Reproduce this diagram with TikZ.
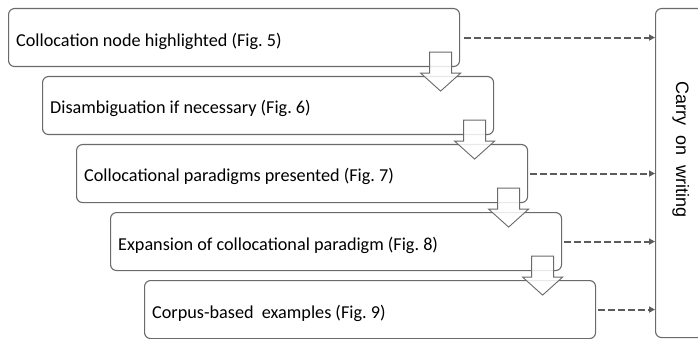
\documentclass[tikz,border=0pt]{standalone}
\usepackage{fontspec}
\setmainfont{Carlito}
\newfontfamily\sidefont{Liberation Sans}
\usetikzlibrary{arrows.meta,calc}
\definecolor{edgegray}{HTML}{6A6A6A}
\definecolor{linkgray}{HTML}{5C5C5C}
\frenchspacing
% hollow block arrow hanging from the lower right of a step box
\newcommand\blockdown[1]{%
  \draw[downarrow] ($(#1.south east)+(-30.5,-15)$) -- ++(22,0) -- ++(0,21)
    -- ++(9,0) -- ++(-20,18) -- ++(-20,-18) -- ++(9,0) -- cycle;}
\begin{document}
\begin{tikzpicture}[x=1pt,y=-1pt,
  stepbox/.style={draw=edgegray, line width=1.1pt, fill=white, rounded corners=6pt,
    anchor=north west, inner sep=0pt, minimum width=451pt, minimum height=58pt},
  steptext/.style={anchor=base west, inner sep=0pt, font=\fontsize{18.2}{22}\selectfont},
  link/.style={draw=linkgray, line width=2pt, dash pattern=on 7pt off 3pt,
    -{Triangle[length=6pt,width=6pt]}},
  downarrow/.style={draw=edgegray, line width=0.9pt, fill=white, fill opacity=0.85,
    line join=miter}
]
\useasboundingbox (0,0) rectangle (698,339);
\clip (0,0) rectangle (698,339);

% the five steps
\node[stepbox] (b1) at (8,8) {};
\node[steptext] (t1) at (16,47) {Collocation node highlighted (Fig. 5)};
\node[stepbox] (b2) at (42,76) {};
\node[steptext] (t2) at (50,114) {Disambiguation if necessary (Fig. 6)};
\node[stepbox] (b3) at (76,144) {};
\node[steptext] (t3) at (84,182) {Collocational paradigms presented (Fig. 7)};
\node[stepbox] (b4) at (110,212) {};
\node[steptext] (t4) at (118,250) {Expansion of collocational paradigm (Fig. 8)};
\node[stepbox] (b5) at (144,280) {};
\node[steptext] (t5) at (152,318) {Corpus-based\ \ examples (Fig. 9)};

% tall box on the right, running past the edge
\node[stepbox, minimum width=80pt, minimum height=329pt] (carry) at (655,8) {};
\node[rotate=-90, anchor=base west, inner sep=0pt,
  font=\sidefont\fontsize{18}{22}\selectfont] (ct) at (676,81) {Carry\ \ on\ \ writing};

% dashed links to the right box
\draw[link] ([xshift=4pt]b1.east) -- (b1.east -| carry.west);
\draw[link] ([xshift=2pt]b3.east) -- (b3.east -| carry.west);
\draw[link] ([xshift=2pt]b4.east) -- (b4.east -| carry.west);
\draw[link] ([xshift=2pt]b5.east) -- (b5.east -| carry.west);

% block arrows between consecutive steps
\blockdown{b1}
\blockdown{b2}
\blockdown{b3}
\blockdown{b4}
\end{tikzpicture}
\end{document}
